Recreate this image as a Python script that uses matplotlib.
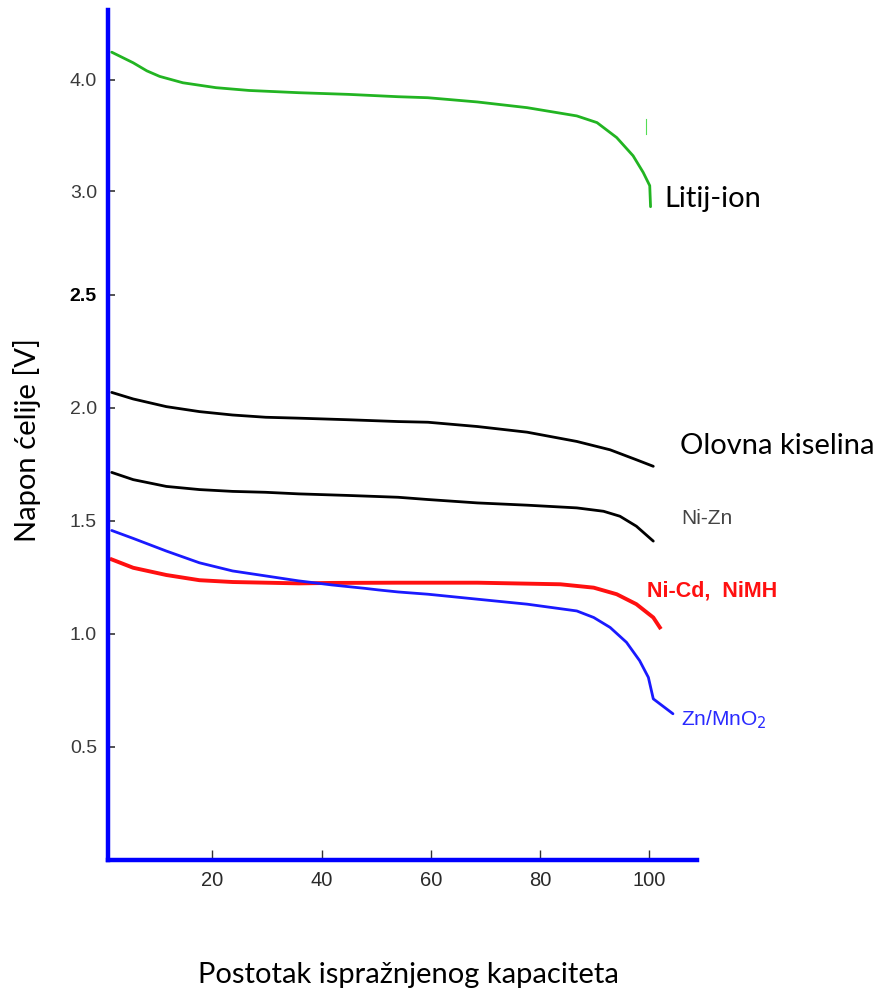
import numpy as np
import matplotlib
matplotlib.use("Agg")
import matplotlib.pyplot as plt

# Discharge curves: x = % of capacity discharged, y = cell voltage [V]
li_ion_x = [1.58, 5.51, 8.0, 10.36, 14.6, 20.67, 26.73, 35.8, 44.9, 54.0, 59.45, 68.5, 77.6,
            86.7, 90.4, 94.0, 97.0, 98.85, 100.05, 100.2]
li_ion_y = [4.247, 4.152, 4.080, 4.030, 3.973, 3.929, 3.904, 3.884, 3.869, 3.848, 3.839, 3.801, 3.75,
            3.676, 3.616, 3.482, 3.319, 3.170, 3.051, 2.926]

lead_x = [1.58, 5.51, 11.58, 17.64, 23.7, 29.76, 35.8, 44.9, 54.0, 59.45, 68.5, 77.6,
          86.7, 92.8, 97.6, 100.7]
lead_y = [2.069, 2.040, 2.006, 1.984, 1.969, 1.959, 1.955, 1.948, 1.940, 1.937, 1.918, 1.893,
          1.852, 1.815, 1.771, 1.742]

nizn_x = [1.58, 5.51, 11.58, 17.64, 23.7, 29.76, 35.8, 44.9, 54.0, 59.45, 68.5, 77.6,
          86.7, 91.6, 94.6, 97.6, 100.7]
nizn_y = [1.715, 1.683, 1.653, 1.639, 1.631, 1.627, 1.620, 1.613, 1.605, 1.595, 1.580, 1.570,
          1.558, 1.543, 1.521, 1.477, 1.411]

nicd_x = [1.58, 5.51, 11.58, 17.64, 23.7, 29.76, 35.8, 41.9, 54.0, 68.5, 83.7, 89.8,
          94.0, 97.6, 100.7, 101.9]
nicd_y = [1.330, 1.293, 1.261, 1.238, 1.230, 1.227, 1.224, 1.226, 1.227, 1.227, 1.220, 1.205,
          1.176, 1.132, 1.073, 1.029]

znmn_x = [1.58, 5.51, 11.58, 17.64, 23.7, 29.76, 35.8, 41.9, 47.9, 50.4, 54.0, 59.45,
          68.5, 77.6, 86.7, 89.8, 92.8, 95.8, 98.2, 99.8, 100.7, 104.3]
znmn_y = [1.458, 1.423, 1.367, 1.315, 1.279, 1.257, 1.235, 1.217, 1.202, 1.195, 1.186, 1.176,
          1.154, 1.132, 1.102, 1.073, 1.029, 0.963, 0.882, 0.808, 0.713, 0.647]

# small stray green mark of the scan, right of the Li-ion knee
stray_x = [99.3, 99.3]
stray_y = [3.645, 3.51]

x_ticks = [20, 40, 60, 80, 100]
y_ticks = [0.5, 1.0, 1.5, 2.0, 2.5, 3.0, 4.0]

# the original axis is broken: spacing changes above 2.5 V and above 3.0 V
V_BREAKS = np.array([-1.0, 0.0, 2.5, 3.0, 4.0, 6.0])
U_BREAKS = np.array([-226.8, 0.0, 567.0, 671.0, 783.0, 1007.0])


def fwd(v):
    return np.interp(v, V_BREAKS, U_BREAKS)


def inv(u):
    return np.interp(u, U_BREAKS, V_BREAKS)


W, H = 883, 993
fig = plt.figure(figsize=(W / 100, H / 100), dpi=100)
ax = fig.add_axes([108 / W, (H - 860) / H, (697 - 108) / W, 850 / H])
ax.set_yscale("function", functions=(fwd, inv))

lw = 2.0
style = dict(lw=lw, solid_joinstyle="round", solid_capstyle="round")
ax.plot(li_ion_x, li_ion_y, color="#22b422", **style)
ax.plot(stray_x, stray_y, color="#55dd55", lw=0.8)
ax.plot(lead_x, lead_y, color="black", **style)
ax.plot(nizn_x, nizn_y, color="black", **style)
ax.plot(nicd_x, nicd_y, color="#ff1010", lw=lw + 0.8, solid_joinstyle="round")
ax.plot(znmn_x, znmn_y, color="#1a1aff", **style)

ax.set_xlim(0.9, 108.7)
ax.set_ylim(0, 4.625)

for side in ["top", "right"]:
    ax.spines[side].set_visible(False)
for side in ["left", "bottom"]:
    ax.spines[side].set_color("#0000ff")
    ax.spines[side].set_linewidth(3.2)

ax.set_xticks(x_ticks)
ax.set_xticklabels([str(t) for t in x_ticks])
ax.set_yticks(y_ticks)
ax.set_yticklabels([f"{t:.1f}" for t in y_ticks])
ax.tick_params(axis="x", direction="in", length=7, width=1.0, color="#333333",
               pad=8, labelsize=14.5, labelcolor="#2a2a2a")
ax.tick_params(axis="y", direction="in", length=5, width=1.2, color="#333333",
               pad=8, labelsize=14, labelcolor="#3a3a3a")
for lab in ax.get_xticklabels() + ax.get_yticklabels():
    lab.set_fontfamily("Liberation Sans")
for lab in ax.get_yticklabels():
    if lab.get_text() == "2.5":
        lab.set_fontweight("bold")
        lab.set_color("black")

# curve names
ax.text(102.7, 2.965, "Litij-ion", fontsize=21, family="Lato", va="center", ha="left")
ax.text(105.5, 1.83, "Olovna kiselina", fontsize=21, family="Lato", va="center", ha="left")
ax.text(105.8, 1.512, "Ni-Zn", fontsize=15, family="Liberation Sans", color="#444444",
        va="center", ha="left")
ax.text(99.5, 1.19, "Ni-Cd,  NiMH", fontsize=15.5, family="Liberation Sans", color="#ff1010",
        fontweight="bold", va="center", ha="left")
ax.text(105.8, 0.62, r"Zn/MnO$_2$", fontsize=15, family="Liberation Sans", color="#2a2aff",
        va="center", ha="left")

fig.text(27 / W, 1 - 440 / H, "Napon ćelije [V]", rotation=90, fontsize=21, family="Lato",
         ha="center", va="center")
fig.text(408 / W, 1 - 975 / H, "Postotak ispražnjenog kapaciteta", fontsize=21, family="Lato",
         ha="center", va="center")

fig.savefig("out.png", dpi=100)
